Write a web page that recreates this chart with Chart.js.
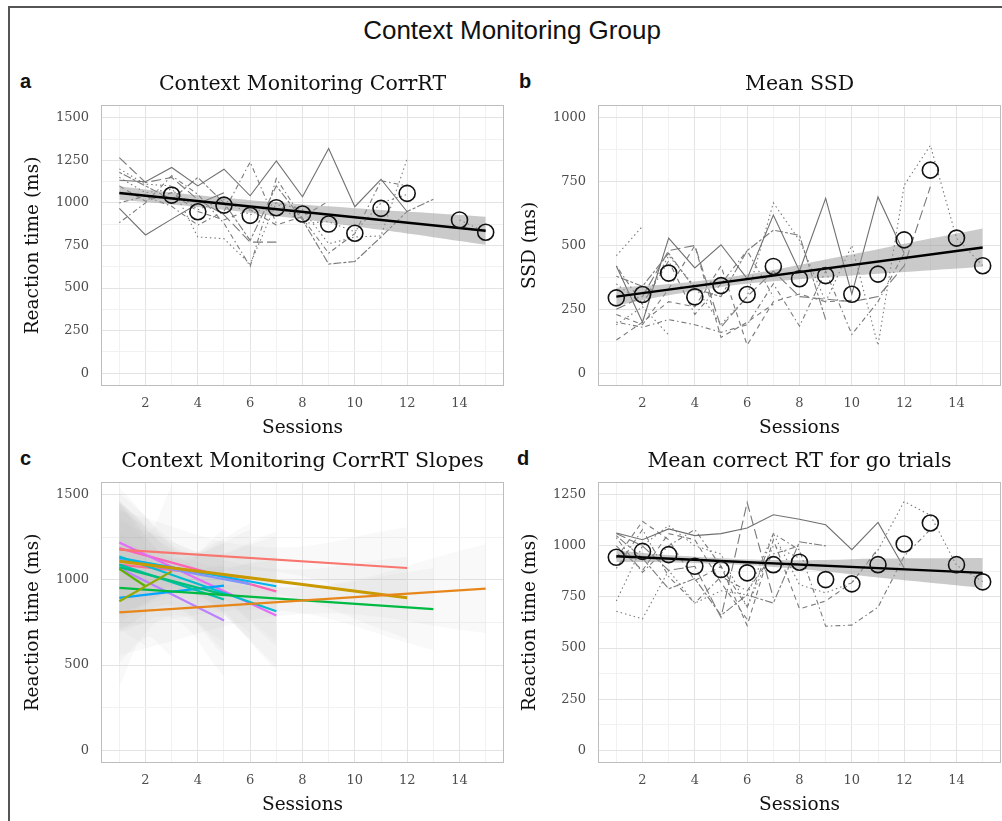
<!DOCTYPE html>
<html>
<head>
<meta charset="utf-8">
<script src="https://cdn.jsdelivr.net/npm/chart.js@4.4.1/dist/chart.umd.min.js"></script>
<style>
  body { margin: 0; background: #fff; width: 1002px; height: 821px; overflow: hidden; position: relative; font-family: "Liberation Sans", Arial, sans-serif; }
  .frame { position: absolute; left: 8px; top: 6px; width: 1200px; height: 1000px; border-left: 2px solid #555; border-top: 2px solid #555; }
  .main-title { position: absolute; left: 0; width: 1024px; top: 17px; text-align: center; font-size: 26px; line-height: 26px; color: #111; }
  .tag { position: absolute; font-weight: bold; font-size: 20px; line-height: 20px; color: #111; }
  canvas { position: absolute; }
</style>
</head>
<body>
<div class="frame"></div>
<div class="main-title">Context Monitoring Group</div>
<div class="tag" style="left:20px;top:71px">a</div>
<div class="tag" style="left:519px;top:71px">b</div>
<div class="tag" style="left:20px;top:448px">c</div>
<div class="tag" style="left:517px;top:448px">d</div>
<canvas id="chartA" width="495" height="380" style="left:10px;top:60px"></canvas>
<canvas id="chartB" width="495" height="380" style="left:507px;top:60px"></canvas>
<canvas id="chartC" width="495" height="380" style="left:10px;top:437px"></canvas>
<canvas id="chartD" width="495" height="380" style="left:507px;top:437px"></canvas>
<script>
// ---- shared axis data ----
const sessions = [1, 2, 3, 4, 5, 6, 7, 8, 9, 10, 11, 12, 13, 14, 15];
const xMajor = [2, 4, 6, 8, 10, 12, 14];
const bandX = [1, 3, 5, 7, 9, 11, 13, 15];
const fitX = [1, 15];

// ---- panel a: Context Monitoring CorrRT ----
const aTicks = [0, 125, 250, 375, 500, 625, 750, 875, 1000, 1125, 1250, 1375, 1500];
const aMajor = [0, 250, 500, 750, 1000, 1250, 1500];
const aMean = [null, null, 1046, 948, 987, 927, 972, 935, 876, 822, 968, 1056, null, 900, 828];
const aFit = [1058, 837];
const aBandHi = [1098, 1061, 1030, 1003, 980, 958, 939, 919];
const aBandLo = [1018, 991, 960, 923, 884, 842, 799, 755];
const aSubjects = [
  [1133, 1124, 1208, 1100, 1198, 1042, 1246, 1036, 1319, 978, 1139, 948, null, null, null],
  [968, 812, 905, 995, 1060, null, null, null, null, null, null, null, null, null, null],
  [1266, 1120, 1150, 1020, 930, 770, 770, null, null, null, null, null, null, null, null],
  [884, 1000, 1160, 1050, 880, 627, 1143, 910, 705, 820, 1130, 1100, null, null, null],
  [1180, 1100, 1020, 1150, 1000, 780, 1100, 900, 641, 656, 800, 950, 1021, null, null],
  [1200, 1110, 1100, 800, 790, 640, 1000, 960, 760, 800, 806, 1260, null, null, null],
  [1100, 1010, 1060, 950, 900, 960, 870, 920, 1010, null, null, null, null, null, null],
  [1000, 1040, 980, 870, 950, 1240, 880, null, null, null, null, null, null, null, null],
  [1150, 1060, 1080, 960, 1020, 930, 1000, 880, 890, 830, 1000, 1050, null, 900, 828]
];
const aStyles = ['solid', 'solid', 'longdash', 'dotdash', 'twodash', 'dotted', 'dashed', 'dotdash', 'dotted'];

// ---- panel b: Mean SSD ----
const bTicks = [0, 125, 250, 375, 500, 625, 750, 875, 1000];
const bMajor = [0, 250, 500, 750, 1000];
const bMean = [295, 308, 392, 299, 343, 308, 418, 370, 382, 309, 388, 522, 795, 529, 421];
const bFit = [300, 492];
const bBandHi = [335, 349, 372, 404, 445, 485, 527, 567];
const bBandLo = [265, 305, 338, 360, 375, 389, 403, 417];
const bSubjects = [
  [420, 200, 529, 412, 503, 370, 619, 400, 685, 310, 690, 470, null, null, null],
  [460, 575, null, null, null, null, null, null, null, null, null, null, null, null, null],
  [350, 270, 460, 340, 190, 300, 667, 520, 280, 500, 109, 736, 892, 529, 421],
  [250, 300, 480, 500, 180, 300, 400, 300, 290, 280, 300, 420, 730, null, null],
  [200, 180, 210, 190, 160, 190, 350, 184, 400, 152, 280, 470, null, null, null],
  [130, 200, 280, 260, 420, 110, 280, 310, 280, 285, null, null, null, null, null],
  [380, 340, 470, 330, 300, 480, 560, 540, 210, null, null, null, null, null, null],
  [230, 190, 330, 500, 140, 200, 270, null, null, null, null, null, null, null, null],
  [420, 270, 440, 230, 350, 480, 300, null, null, null, null, null, null, null, null],
  [190, 260, 150, null, null, null, null, null, null, null, null, null, null, null, null]
];
const bStyles = ['solid', 'dotted', 'dotted', 'longdash', 'dotdash', 'dashed', 'twodash', 'dashed', 'dotdash', 'dotted'];

// ---- panel c: Context Monitoring CorrRT Slopes ----
const cTicks = [0, 250, 500, 750, 1000, 1250, 1500];
const cMajor = [0, 500, 1000, 1500];
const slopeStart = [1, 1, 1, 1, 1, 1, 1, 1, 1, 1, 1, 1, 1, 1, 1, 1];
const slopeEnd = [12, 15, 12, 3, 2, 13, 5, 5, 7, 7, 5, 6, 5, 7, 7, 6];
const slopeY0 = [1178, 810, 1109, 875, 1065, 953, 1075, 1090, 1138, 1130, 895, 1120, 1070, 1220, 1187, 1090];
const slopeY1 = [1070, 949, 895, 1050, 963, 828, 914, 885, 816, 963, 967, 975, 762, 791, 933, 1010];
// half-width of each subject's confidence band at start, middle and end
const slopeBand = [
  [230, 70, 240], [250, 80, 260], [230, 70, 240], [500, 300, 500], [350, 350, 350], [230, 70, 240],
  [380, 140, 330], [380, 140, 330], [320, 100, 320], [320, 100, 320], [380, 140, 330], [340, 110, 320],
  [380, 140, 330], [320, 100, 320], [320, 100, 320], [340, 110, 320]
];
const slopeColors = ['#F8766D', '#E7861B', '#C99A00', '#93AA00', '#5BB300', '#00BA42', '#00BF7D', '#00C1A7',
  '#00BDD0', '#00B5EE', '#00A5FF', '#7F96FF', '#BC81FF', '#E26EF7', '#FF63B6', '#FF6C91'];

// ---- panel d: Mean correct RT for go trials ----
const dTicks = [0, 125, 250, 375, 500, 625, 750, 875, 1000, 1125, 1250];
const dMajor = [0, 250, 500, 750, 1000, 1250];
const dMean = [944, 973, 957, 900, 884, 868, 908, 920, 835, 814, 908, 1009, 1112, 908, 824];
const dFit = [949, 868];
const dBandHi = [977, 955, 940, 931, 931, 938, 940, 941];
const dBandLo = [921, 919, 912, 897, 875, 845, 820, 795];
const dSubjects = [
  [1063, 1030, 1083, 1050, 1060, 1087, 1152, 1130, 1103, 981, 1115, 892, null, null, null],
  [680, 643, 880, 720, 780, 760, 1060, 810, 770, 820, 980, 1217, 1150, 905, 825],
  [1040, 870, 1000, 1080, 900, 700, 1060, 980, 607, 612, 700, 950, 1080, null, null],
  [1060, 1000, 880, 900, 650, 1212, 745, null, null, null, null, null, null, null, null],
  [940, 1120, 1030, 830, 900, 610, 1030, 692, 730, 820, 985, null, null, null, null],
  [730, 1000, 1100, 1000, 960, 700, 1000, 940, null, null, null, null, null, null, null],
  [1050, 940, 790, 840, 660, 760, 720, 1020, 1000, null, null, null, null, null, null],
  [1000, 880, 1060, 1030, 820, 640, null, null, null, null, null, null, null, null, null],
  [890, 1080, 850, 720, 850, 780, 960, 1000, null, null, null, null, null, null, null]
];
const dStyles = ['solid', 'dotted', 'dotdash', 'longdash', 'dashed', 'dotted', 'twodash', 'dashed', 'dotdash'];

// ggplot-like linetypes
const DASH = {
  solid: [], dashed: [5, 4], dotted: [1.5, 3], dotdash: [1.5, 3, 5, 3], longdash: [10, 4], twodash: [3, 2, 8, 2]
};
const SERIF = '"DejaVu Serif", "Liberation Serif", serif';

const panelBorder = {
  id: 'panelBorder',
  afterDraw(chart) {
    const a = chart.chartArea, c = chart.ctx;
    c.save();
    c.strokeStyle = '#bdbdbd';
    c.lineWidth = 1;
    c.strokeRect(a.left + 0.5, a.top + 0.5, a.right - a.left - 1, a.bottom - a.top - 1);
    c.restore();
  }
};

const pts = (xs, ys) => xs.map((x, i) => ({ x, y: ys[i] }));

function buildPanel(id, title, yTitle, yMin, yMax, yTicks, yMajor, datasets) {
  return new Chart(document.getElementById(id), {
    type: 'line',
    data: { datasets },
    options: {
      responsive: false,
      animation: false,
      events: [],
      // no auto padding: the big mean circles would otherwise shrink the plot
      layout: { autoPadding: false, padding: { left: 0, right: 1, top: 0, bottom: 0 } },
      elements: { point: { radius: 0 }, line: { tension: 0 } },
      plugins: {
        legend: { display: false },
        tooltip: { enabled: false },
        title: {
          display: true, text: title, fullSize: false, color: '#111',
          font: { family: SERIF, size: 20.5, weight: 'normal' },
          padding: { top: 12.5, bottom: 7.9 }
        }
      },
      scales: {
        x: {
          type: 'linear', min: 0.3, max: 15.7,
          afterBuildTicks: s => { s.ticks = sessions.map(v => ({ value: v })); },
          afterFit: s => { s.height = 54; },
          ticks: {
            autoSkip: false, maxRotation: 0, padding: 10, color: '#4d4d4d',
            font: { family: SERIF, size: 13 },
            callback: v => xMajor.includes(v) ? String(v) : ''
          },
          grid: {
            drawTicks: false, lineWidth: 1,
            color: ctx => (ctx.tick && xMajor.includes(ctx.tick.value)) ? '#e3e3e3' : '#f1f1f1'
          },
          border: { display: false },
          title: { display: true, text: 'Sessions', color: '#111', font: { family: SERIF, size: 18.5 }, padding: { top: 0, bottom: 1 } }
        },
        y: {
          type: 'linear', min: yMin, max: yMax,
          afterBuildTicks: s => { s.ticks = yTicks.map(v => ({ value: v })); },
          afterFit: s => { s.width = 91; },
          ticks: {
            autoSkip: false, padding: 12, color: '#4d4d4d',
            font: { family: SERIF, size: 13 },
            callback: v => yMajor.includes(v) ? String(v) : ''
          },
          grid: {
            drawTicks: false, lineWidth: 1,
            color: ctx => (ctx.tick && yMajor.includes(ctx.tick.value)) ? '#e3e3e3' : '#f1f1f1'
          },
          border: { display: false },
          title: { display: true, text: yTitle, color: '#111', font: { family: SERIF, size: 18.5 }, padding: { top: 12, bottom: 0 } }
        }
      }
    },
    plugins: [panelBorder]
  });
}

// panels a, b, d share the same layering: subject lines, ribbon, fit line, means
function trendDatasets(subjects, styles, bandHi, bandLo, fit, means) {
  const ds = subjects.map((s, i) => ({
    data: pts(sessions, s),
    borderColor: styles[i] === 'solid' ? '#707070' : '#7a7a7a',
    borderWidth: 1.1,
    borderDash: DASH[styles[i]],
    fill: false,
    order: 10
  }));
  ds.push({
    data: pts(bandX, bandHi), borderWidth: 0, borderColor: 'rgba(0,0,0,0)',
    backgroundColor: 'rgba(150,150,150,0.5)', fill: '+1', tension: 0.4, order: 5
  });
  ds.push({ data: pts(bandX, bandLo), borderWidth: 0, borderColor: 'rgba(0,0,0,0)', fill: false, tension: 0.4, order: 5 });
  ds.push({ data: pts(fitX, fit), borderColor: '#000', borderWidth: 2.4, fill: false, order: 2 });
  ds.push({
    data: pts(sessions, means), showLine: false,
    pointRadius: 8, pointBorderWidth: 1.6, pointBorderColor: '#111', pointBackgroundColor: 'rgba(0,0,0,0)',
    order: 1
  });
  return ds;
}

function slopeDatasets() {
  const ds = [];
  slopeColors.forEach((col, i) => {
    const x0 = slopeStart[i], x1 = slopeEnd[i];
    const y0 = slopeY0[i], y1 = slopeY1[i];
    const xm = (x0 + x1) / 2, ym = (y0 + y1) / 2;
    const h = slopeBand[i];
    ds.push({
      data: [{ x: x0, y: y0 + h[0] }, { x: xm, y: ym + h[1] }, { x: x1, y: y1 + h[2] }],
      borderWidth: 0, borderColor: 'rgba(0,0,0,0)', backgroundColor: 'rgba(185,185,185,0.085)',
      fill: '+1', tension: 0.4, order: 5
    });
    ds.push({
      data: [{ x: x0, y: y0 - h[0] }, { x: xm, y: ym - h[1] }, { x: x1, y: y1 - h[2] }],
      borderWidth: 0, borderColor: 'rgba(0,0,0,0)', fill: false, tension: 0.4, order: 5
    });
  });
  slopeColors.forEach((col, i) => {
    ds.push({
      data: [{ x: slopeStart[i], y: slopeY0[i] }, { x: slopeEnd[i], y: slopeY1[i] }],
      borderColor: col, borderWidth: i === 2 ? 3 : 2.2, fill: false, order: 1
    });
  });
  return ds;
}

buildPanel('chartA', 'Context Monitoring CorrRT', 'Reaction time (ms)', -75, 1575, aTicks, aMajor,
  trendDatasets(aSubjects, aStyles, aBandHi, aBandLo, aFit, aMean));
buildPanel('chartB', 'Mean SSD', 'SSD (ms)', -50, 1050, bTicks, bMajor,
  trendDatasets(bSubjects, bStyles, bBandHi, bBandLo, bFit, bMean));
buildPanel('chartC', 'Context Monitoring CorrRT Slopes', 'Reaction time (ms)', -75, 1575, cTicks, cMajor,
  slopeDatasets());
buildPanel('chartD', 'Mean correct RT for go trials', 'Reaction time (ms)', -62.5, 1312.5, dTicks, dMajor,
  trendDatasets(dSubjects, dStyles, dBandHi, dBandLo, dFit, dMean));
</script>
</body>
</html>
